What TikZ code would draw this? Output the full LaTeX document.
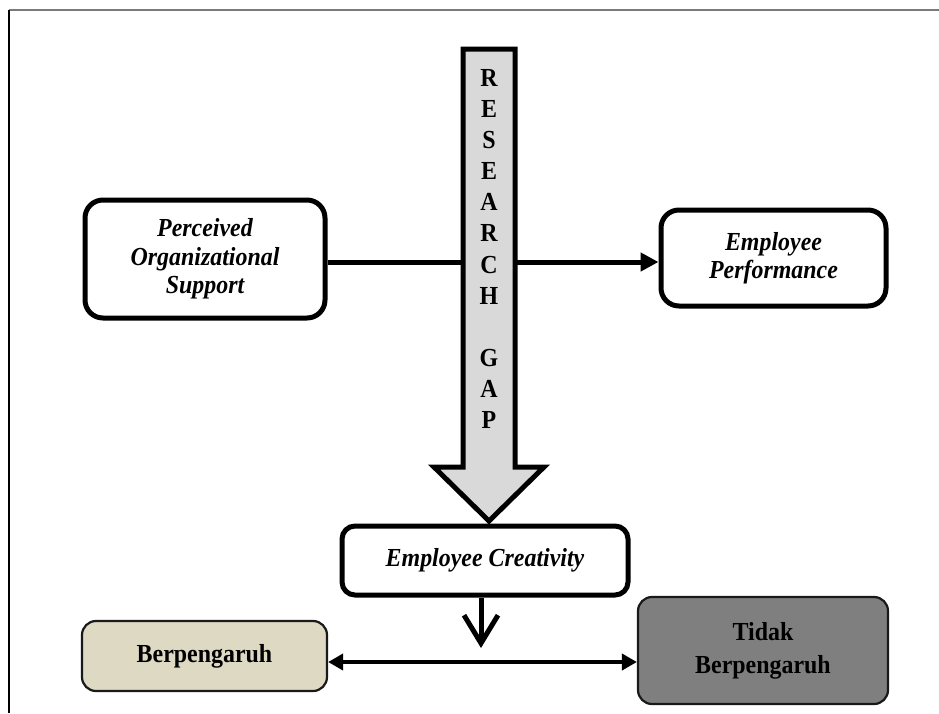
\documentclass[tikz,border=0pt]{standalone}
\usepackage{fontspec}
\setmainfont[FakeStretch=0.92]{Liberation Serif}
\usetikzlibrary{arrows.meta}
\definecolor{beigebox}{HTML}{DDD9C3}
\definecolor{greybox}{HTML}{7F7F7F}
\definecolor{gapfill}{HTML}{D9D9D9}
\definecolor{framegrey}{HTML}{7A7A7A}
\begin{document}
\begin{tikzpicture}[x=1pt,y=-1pt,
  concept/.style={draw=black, line width=5pt, rounded corners=18pt, fill=white,
    align=center, inner sep=0pt,
    font=\fontsize{26}{28.5}\selectfont\bfseries\itshape},
  result/.style={draw=black!90, line width=2.2pt, rounded corners=14pt,
    align=center, inner sep=0pt,
    font=\fontsize{26}{33}\selectfont\bfseries},
  link/.style={line width=5pt, draw=black},
]
\useasboundingbox (0,0) rectangle (939,713);
% partial frame
\draw[framegrey, line width=2pt] (9,10) -- (939,10);
\draw[black, line width=1.5pt] (9,10) -- (9,713);

% concept boxes
\node[concept, minimum width=240pt, minimum height=118pt] (pos) at (205,259)
  {Perceived\\Organizational\\Support};
\node[concept, minimum width=225pt, minimum height=96pt] (ep) at (773.5,258)
  {Employee\\Performance};
\node[concept, rounded corners=13pt, minimum width=286pt, minimum height=69pt] (ec) at (485,560.5)
  {\raisebox{5pt}{Employee Creativity}};

% result boxes
\node[result, fill=beigebox, minimum width=245pt, minimum height=70pt] (bp) at (204.5,656)
  {Berpengaruh};
\node[result, fill=greybox, minimum width=250pt, minimum height=107pt] (tb) at (763,650.5)
  {Tidak\\Berpengaruh};

% connector POS -> EP (passes behind the research gap arrow)
\coordinate (row) at (500,262);
\draw[link, -{Triangle[length=18pt,width=18pt]}] (pos.east |- row) -- (ep.west |- row);

% research gap arrow
\draw[line width=5pt, fill=gapfill, line join=miter]
  (463,49) -- (515,49) -- (515,467) -- (544,467) -- (489,521) -- (434,467) -- (463,467) -- cycle;
\node[align=center, inner sep=0pt, font=\fontsize{26}{31.1}\selectfont\bfseries] (gap) at (489,249)
  {R\\E\\S\\E\\A\\R\\C\\H\\[31.1pt]G\\A\\P};

% EC down arrow
\coordinate (dn) at (481,648);
\draw[link, -{Straight Barb[length=28pt,width=34pt,line width=5pt]}] (ec.south -| dn) -- (dn);

% double arrow between results
\coordinate (hrow) at (481,662);
\draw[line width=4pt, {Triangle[length=15pt,width=16pt]}-{Triangle[length=15pt,width=16pt]}]
  (bp.east |- hrow) -- (tb.west |- hrow);
\end{tikzpicture}
\end{document}
